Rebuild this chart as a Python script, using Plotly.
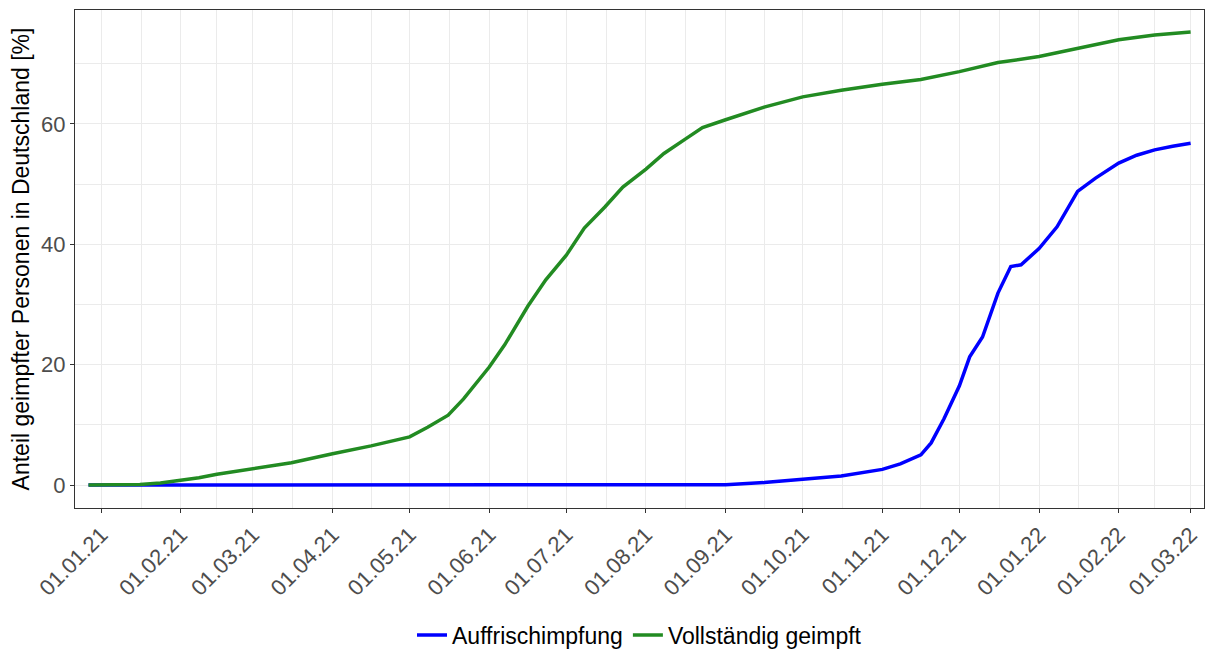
import pandas as pd
import plotly.graph_objects as go

# Vollständig geimpft (fully vaccinated), % of population
green_dates = ["2020-12-27", "2021-01-10", "2021-01-16", "2021-01-24", "2021-02-01", "2021-02-08",
               "2021-02-15", "2021-03-01", "2021-03-16", "2021-04-01", "2021-04-16", "2021-05-01",
               "2021-05-08", "2021-05-16", "2021-05-22", "2021-06-01", "2021-06-07", "2021-06-16",
               "2021-06-23", "2021-07-01", "2021-07-08", "2021-07-16", "2021-07-23", "2021-08-01",
               "2021-08-08", "2021-08-16", "2021-08-23", "2021-09-01", "2021-09-16", "2021-10-01",
               "2021-10-16", "2021-11-01", "2021-11-16", "2021-12-01", "2021-12-16", "2022-01-01",
               "2022-01-16", "2022-02-01", "2022-02-15", "2022-03-01"]
green_vals = [0.0, 0.0, 0.1, 0.35, 0.75, 1.2,
              1.8, 2.7, 3.7, 5.2, 6.5, 8.0,
              9.6, 11.6, 14.3, 19.6, 23.3, 29.7,
              34.1, 38.2, 42.7, 46.2, 49.5, 52.5,
              55.1, 57.4, 59.4, 60.7, 62.8, 64.5,
              65.6, 66.6, 67.4, 68.7, 70.2, 71.2,
              72.6, 74.0, 74.8, 75.3]

# Auffrischimpfung (booster), % of population
blue_dates = ["2020-12-27", "2021-08-25", "2021-09-01", "2021-09-16", "2021-10-01", "2021-10-16",
              "2021-11-01", "2021-11-08", "2021-11-16", "2021-11-20", "2021-11-25", "2021-12-01",
              "2021-12-05", "2021-12-10", "2021-12-16", "2021-12-21", "2021-12-25", "2022-01-01",
              "2022-01-08", "2022-01-16", "2022-01-23", "2022-02-01", "2022-02-08", "2022-02-15",
              "2022-02-22", "2022-03-01"]
blue_vals = [0.0, 0.0, 0.05, 0.4, 0.9, 1.5,
             2.6, 3.5, 5.0, 7.0, 11.0, 16.5,
             21.3, 24.6, 31.9, 36.3, 36.6, 39.3,
             42.9, 48.8, 51.0, 53.5, 54.8, 55.7,
             56.3, 56.8]

y_major = [0, 20, 40, 60]
y_minor = [10, 30, 50, 70]
month_ticks = pd.date_range("2021-01-01", "2022-03-01", freq="MS")
x_minor = [month_ticks[i] + (month_ticks[i + 1] - month_ticks[i]) / 2 for i in range(len(month_ticks) - 1)]

FONT = "Liberation Sans, Arial, sans-serif"
GRID = "#EBEBEB"
AX = "#333333"

fig = go.Figure()
fig.add_trace(go.Scatter(x=pd.to_datetime(blue_dates), y=blue_vals, mode="lines",
                         name="Auffrischimpfung", line=dict(color="#0000FF", width=3.5)))
fig.add_trace(go.Scatter(x=pd.to_datetime(green_dates), y=green_vals, mode="lines",
                         name="Vollständig geimpft", line=dict(color="#228B22", width=3.5)))

fig.update_layout(
    width=1206, height=650,
    margin=dict(l=75, r=2, t=10, b=142, autoexpand=False),
    paper_bgcolor="white", plot_bgcolor="white",
    font=dict(family=FONT, color="black"),
    showlegend=True,
    legend=dict(orientation="h", x=0.5, xanchor="center", y=-0.255, yanchor="middle",
                font=dict(size=23, color="black"), itemwidth=30, bgcolor="rgba(0,0,0,0)"),
)
fig.update_xaxes(
    type="date", automargin=False,
    range=["2020-12-21 18:00", "2022-03-06 05:00"],
    tickmode="array", tickvals=list(month_ticks),
    ticktext=[d.strftime("%d.%m.%y") for d in month_ticks],
    tickangle=-45, tickfont=dict(size=22, color="#4D4D4D"),
    ticks="outside", ticklen=4, tickwidth=1.1, tickcolor=AX,
    showgrid=True, gridcolor=GRID, gridwidth=1.1,
    minor=dict(tickmode="array", tickvals=x_minor, showgrid=True, gridcolor=GRID, gridwidth=0.6, ticks=""),
    showline=True, linecolor=AX, linewidth=1.3, mirror=True, zeroline=False,
)
fig.update_yaxes(
    automargin=False,
    range=[-3.82, 78.94],
    tickmode="array", tickvals=y_major, ticktext=[str(v) for v in y_major],
    tickfont=dict(size=22, color="#4D4D4D"),
    ticks="outside", ticklen=4, tickwidth=1.1, tickcolor=AX,
    showgrid=True, gridcolor=GRID, gridwidth=1.1,
    minor=dict(tickmode="array", tickvals=y_minor, showgrid=True, gridcolor=GRID, gridwidth=0.6, ticks=""),
    showline=True, linecolor=AX, linewidth=1.3, mirror=True, zeroline=False,
    title=dict(text="Anteil geimpfter Personen in Deutschland [%]", font=dict(size=23, color="black"), standoff=4),
)

fig.write_html(
    "out.html",
    config={"responsive": False, "displayModeBar": False},
    post_script="document.body.style.margin='0';document.body.style.overflow='hidden';",
)
